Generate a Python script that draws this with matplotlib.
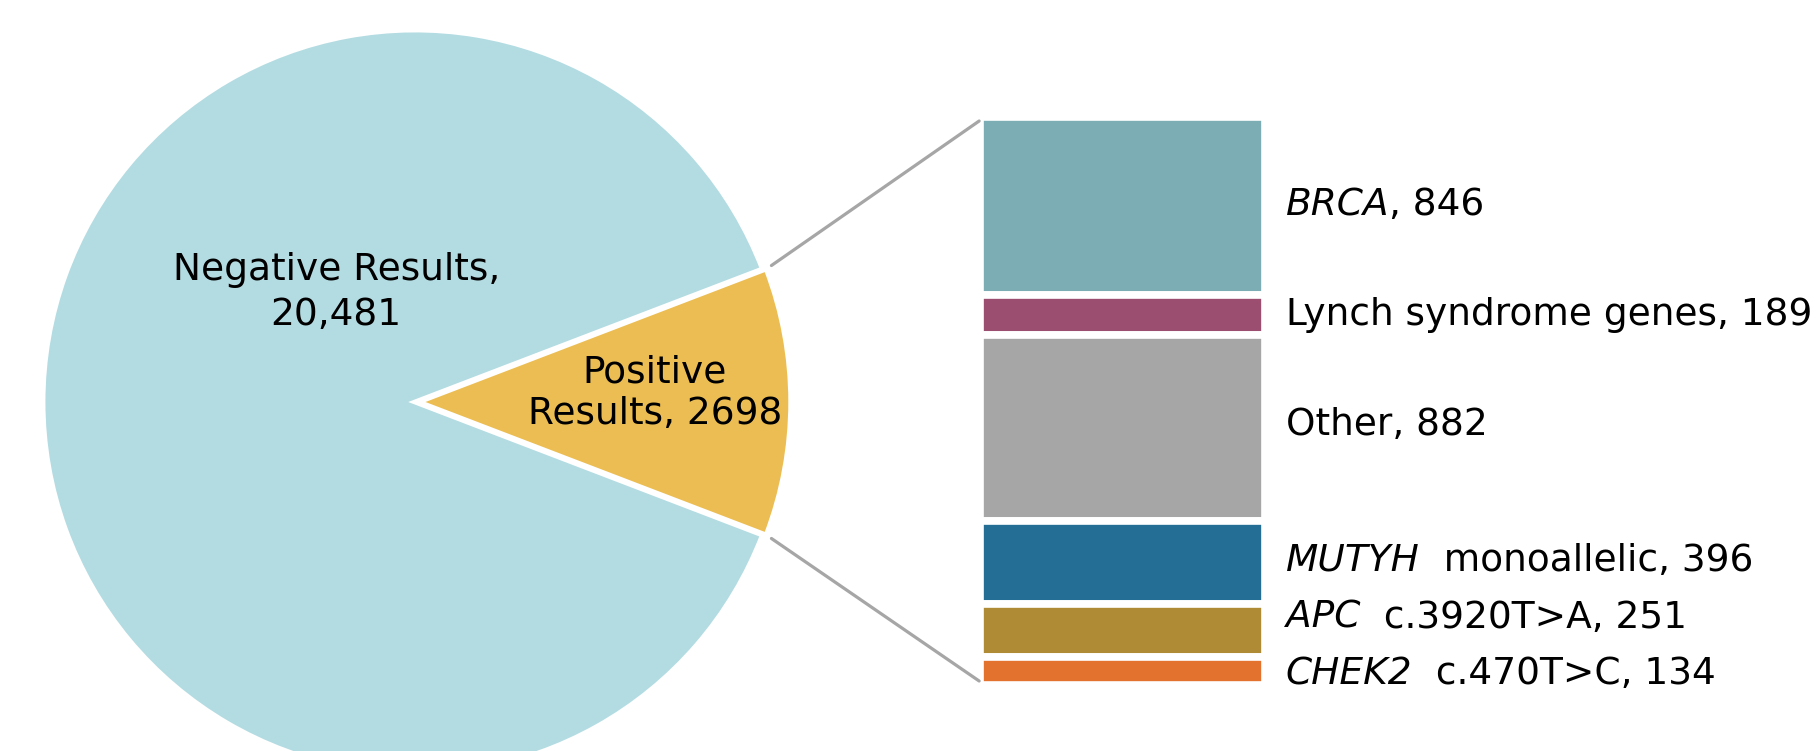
import numpy as np
import matplotlib
matplotlib.use("Agg")
import matplotlib.pyplot as plt
from matplotlib.patches import ConnectionPatch

FONT = 'DejaVu Sans'
plt.rcParams['font.family'] = [FONT]

# data
pie_labels = ['Positive\nResults, 2698', 'Negative Results,\n20,481']
pie_values = [2698, 20481]
pie_colors = ['#ECBD52', '#B3DCE2']

gene_names = ['BRCA', '', '', 'MUTYH', 'APC', 'CHEK2']   # italic part
gene_texts = [', 846', 'Lynch syndrome genes, 189', 'Other, 882',
              '  monoallelic, 396', '  c.3920T>A, 251', '  c.470T>C, 134']
gene_values = [846, 189, 882, 396, 251, 134]
gene_colors = ['#7DADB4', '#9B4E70', '#A6A6A6', '#246E95', '#B08B35', '#E3722E']

W, H = 1818, 751
fig = plt.figure(figsize=(W / 100, H / 100), dpi=100)
FS = 27

# pie (cut off at the bottom like the original)
ax_pie = fig.add_axes([43 / W, -23 / H, 744 / W, 744 / H])
frac = pie_values[0] / sum(pie_values)
angle = 360 * frac
wedges, _ = ax_pie.pie(pie_values, colors=pie_colors, startangle=-angle / 2,
                       explode=[0.01, 0], radius=1,
                       wedgeprops=dict(edgecolor='white', linewidth=3.5))
ax_pie.set_xlim(-1, 1)
ax_pie.set_ylim(-1, 1)
ax_pie.set_aspect('equal')
ax_pie.axis('off')

ax_pie.text(-0.212, 0.294, pie_labels[1], ha='center', va='center',
            fontsize=FS, linespacing=1.3)
ax_pie.text(0.645, 0.024, pie_labels[0], ha='center', va='center',
            fontsize=FS, linespacing=1.2)

# stacked bar of the positive results
bar_px = [980, 66, 285, 568]  # left, bottom, width, height in pixels
ax_bar = fig.add_axes([bar_px[0] / W, bar_px[1] / H, bar_px[2] / W, bar_px[3] / H])
total = sum(gene_values)
bottoms = np.concatenate([[0], np.cumsum(gene_values)[:-1]])
for val, bot, col in zip(gene_values, bottoms, gene_colors):
    ax_bar.bar(0, val, bottom=bot, width=1, color=col,
               edgecolor='white', linewidth=5.5)
ax_bar.set_xlim(-0.5, 0.5)
ax_bar.set_ylim(total, 0)
ax_bar.axis('off')

label_dy = [0.5, 0, 2, 1, 9, -2.5]  # small nudges in points
for name, txt, val, bot, dy in zip(gene_names, gene_texts, gene_values, bottoms, label_dy):
    first = ax_bar.annotate(name if name else txt, xy=(0.5, bot + val / 2),
                            xytext=(15, dy), textcoords='offset points',
                            ha='left', va='center', fontsize=FS,
                            style='italic' if name else 'normal')
    if name:
        ax_bar.annotate(txt, xy=(1, 0.5), xycoords=first, ha='left',
                        va='center', fontsize=FS)

# connector lines from pie edge to bar corners
theta = np.deg2rad(angle / 2)
r = 1.026
inset = 4 * total / bar_px[3]
for sgn, yb in [(1, inset), (-1, total - inset)]:
    con = ConnectionPatch(xyA=(r * np.cos(theta), sgn * r * np.sin(theta)),
                          coordsA=ax_pie.transData,
                          xyB=(-0.503, yb), coordsB=ax_bar.transData,
                          color='#A6A6A6', linewidth=2.3)
    fig.add_artist(con)

fig.savefig('out.png', dpi=100)
